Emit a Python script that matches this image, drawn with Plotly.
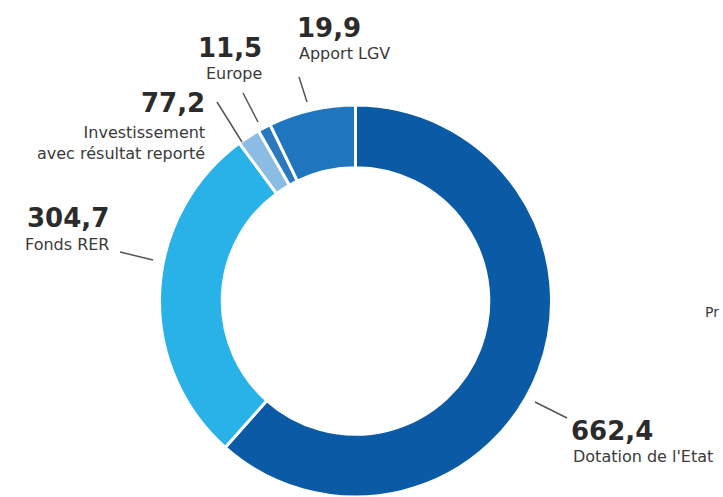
import plotly.graph_objects as go

W, H = 723, 497

# Slices in clockwise order from 12 o'clock (sizes as drawn in the reference)
slice_names = ["Dotation de l'Etat", "Fonds RER", "Investissement avec résultat reporté",
               "Europe", "Apport LGV"]
slice_values = [662.4, 304.7, 19.9, 11.5, 77.2]
slice_colors = ["#0A5AA6", "#29B2E7", "#8BBCE4", "#2A79BE", "#1F76BE"]

# Printed labels (as shown on the chart)
label_numbers = ["662,4", "304,7", "77,2", "11,5", "19,9"]
label_texts = ["Dotation de l'Etat", "Fonds RER", "Investissement<br>avec résultat reporté",
               "Europe", "Apport LGV"]


def px(x, y):
    return x / W, (H - y) / H


fig = go.Figure()
cx, cy = 355.5, 301
fig.add_trace(go.Pie(
    labels=slice_names,
    values=slice_values,
    sort=False,
    direction="clockwise",
    rotation=0,
    hole=0.68,
    textinfo="none",
    hoverinfo="label+value",
    showlegend=False,
    marker=dict(colors=slice_colors, line=dict(color="white", width=3)),
    domain=dict(x=[(cx - 198) / W, (cx + 198) / W], y=[0, 2 * (H - cy) / H]),
))

NUM_FONT = dict(family="DejaVu Sans", size=26, color="#2b2b2b", weight="bold")
TXT_FONT = dict(family="DejaVu Sans", size=16, color="#3a3a3a")

# (number position, text position, anchor, leader line)
placements = [
    ((569, 431), (571, 456), "left", ((535, 402), (567, 418))),
    ((111, 218), (111, 244), "right", ((120, 252), (153, 260))),
    ((207, 103), (207, 143), "right", ((217, 102), (242, 142))),
    ((264, 48), (264, 74), "right", ((243, 93), (258, 122))),
    ((295, 28), (297, 53), "left", ((299, 77), (307, 102))),
]

annotations = []
shapes = []
for num, txt, (npos, tpos, anchor, line) in zip(label_numbers, label_texts, placements):
    x, y = px(*npos)
    annotations.append(dict(x=x, y=y, xref="paper", yref="paper", text=num, showarrow=False,
                            xanchor=anchor, yanchor="middle", font=NUM_FONT, align=anchor))
    x, y = px(*tpos)
    annotations.append(dict(x=x, y=y, xref="paper", yref="paper", text=txt, showarrow=False,
                            xanchor=anchor, yanchor="middle", font=TXT_FONT, align=anchor))
    (x0, y0), (x1, y1) = line
    a0, b0 = px(x0, y0)
    a1, b1 = px(x1, y1)
    shapes.append(dict(type="line", xref="paper", yref="paper", x0=a0, y0=b0, x1=a1, y1=b1,
                       line=dict(color="#555555", width=1.5)))

x, y = px(721, 312)
annotations.append(dict(x=x, y=y, xref="paper", yref="paper", text="Pr", showarrow=False,
                        xanchor="right", yanchor="middle",
                        font=dict(family="DejaVu Sans", size=14, color="#3a3a3a")))

fig.update_layout(
    width=W, height=H,
    margin=dict(l=0, r=0, t=0, b=0),
    paper_bgcolor="white", plot_bgcolor="white",
    annotations=annotations, shapes=shapes,
)

fig.write_html("out.html")
